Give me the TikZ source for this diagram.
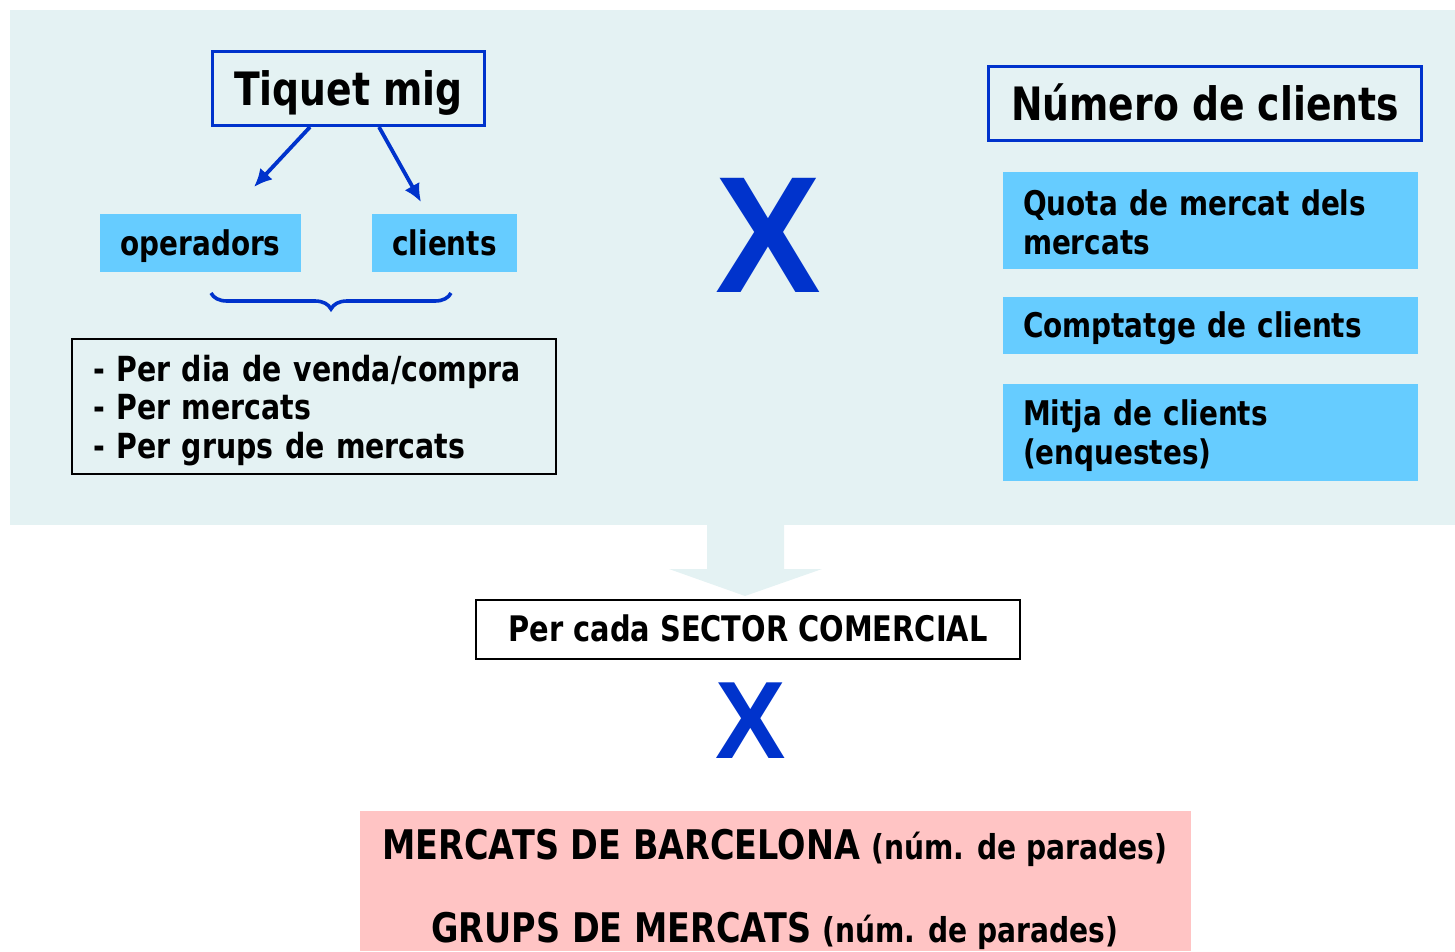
\documentclass[tikz,border=0pt]{standalone}
\usepackage{fontspec}
\usetikzlibrary{arrows.meta,decorations.pathreplacing}
\newfontfamily\vf{DejaVu Sans}[FakeStretch=0.82]
\newfontfamily\xf{Liberation Sans}
\definecolor{bgc}{RGB}{228,242,243}
\definecolor{lblue}{RGB}{102,204,255}
\definecolor{dblue}{RGB}{0,51,204}
\definecolor{pinkc}{RGB}{255,196,196}
\begin{document}
\begin{tikzpicture}[x=1pt,y=-1pt,
  titlebox/.style={draw=dblue,line width=3pt,inner sep=0pt,
    font=\vf\bfseries\fontsize{46}{50}\selectfont,text height=33.5pt,text depth=0pt},
  cell/.style={fill=lblue,inner sep=0pt,font=\vf\bfseries\fontsize{34}{38.5}\selectfont},
  one/.style={text height=24.8pt,text depth=0pt},
  blackbox/.style={draw=black,line width=2pt,inner sep=0pt,
    font=\vf\bfseries\fontsize{34.6}{38.5}\selectfont},
  bigx/.style={text=dblue,inner sep=0pt,anchor=base},
  arr/.style={draw=dblue,line width=3.8pt,-{Latex[length=18pt,width=17pt]}},
  bottomtxt/.style={inner sep=0pt,anchor=base,font=\vf\bfseries\fontsize{40.8}{44}\selectfont}
]
\useasboundingbox (0,0) rectangle (1455,951);
% background panel
\fill[bgc] (10,10) rectangle (1455,525);
% block arrow
\fill[bgc] (707,524) -- (707,569) -- (669,569) -- (745,596) -- (822,569) -- (784,569) -- (784,524) -- cycle;

% left column
\node[titlebox,minimum width=272pt,minimum height=74pt] (tiq) at (348.5,88.5) {Tiquet mig};
\node[cell,one,minimum width=201pt,minimum height=58pt] (oper) at (200.5,243) {operadors};
\node[cell,one,minimum width=145pt,minimum height=58pt] (cli) at (444.5,243) {clients};
\coordinate (a1e) at (254,187);
\coordinate (a2e) at (421,202);
\draw[arr] ([xshift=-38.5pt]tiq.south) -- (a1e);
\draw[arr] ([xshift=30.5pt]tiq.south) -- (a2e);
\coordinate (bl) at (211,293);
\coordinate (br) at (451,293);
\draw[dblue,line width=3.6pt,decorate,decoration={brace,mirror,amplitude=16pt}] (bl) -- (br);
\node[blackbox,minimum width=484pt,minimum height=135pt,text width=442pt,align=left] (per) at (314,406.5)
  {\rule{0pt}{34pt}- Per dia de venda/compra\\- Per mercats\\- Per grups de mercats};

% big X
\node[bigx,font=\xf\bfseries\fontsize{166}{166}\selectfont] (x1) at (768.5,292) {\scalebox{0.955}[1]{X}};

% right column
\node[titlebox,minimum width=433pt,minimum height=74pt] (num) at (1205,103.5) {Número de clients};
\node[cell,minimum width=415pt,minimum height=97pt,text width=375pt,align=left] (quota) at (1210.5,220.5)
  {\rule{0pt}{29pt}Quota de mercat dels\\mercats};
\node[cell,one,minimum width=415pt,minimum height=57pt,text width=375pt,align=left] (compt) at (1210.5,325.5)
  {Comptatge de clients};
\node[cell,minimum width=415pt,minimum height=97pt,text width=375pt,align=left] (mitja) at (1210.5,432.5)
  {\rule{0pt}{32pt}Mitja de clients\\(enquestes)};

% sector
\node[blackbox,one,font=\vf\bfseries\fontsize{35.2}{38}\selectfont,minimum width=544pt,minimum height=59pt] (sector) at (748,629.5) {Per cada SECTOR COMERCIAL};
\node[bigx,font=\xf\bfseries\fontsize{110}{110}\selectfont] (x2) at (750.5,758) {\scalebox{0.96}[1]{X}};

% bottom
\node[fill=pinkc,inner sep=0pt,minimum width=831pt,minimum height=140pt] (pink) at (775.5,881) {};
\node[bottomtxt] (l1) at (775,859) {MERCATS DE BARCELONA {\fontsize{34.3}{38}\selectfont(núm. de parades)}};
\node[bottomtxt] (l2) at (775,942) {GRUPS DE MERCATS {\fontsize{34.3}{38}\selectfont(núm. de parades)}};
\end{tikzpicture}
\end{document}
